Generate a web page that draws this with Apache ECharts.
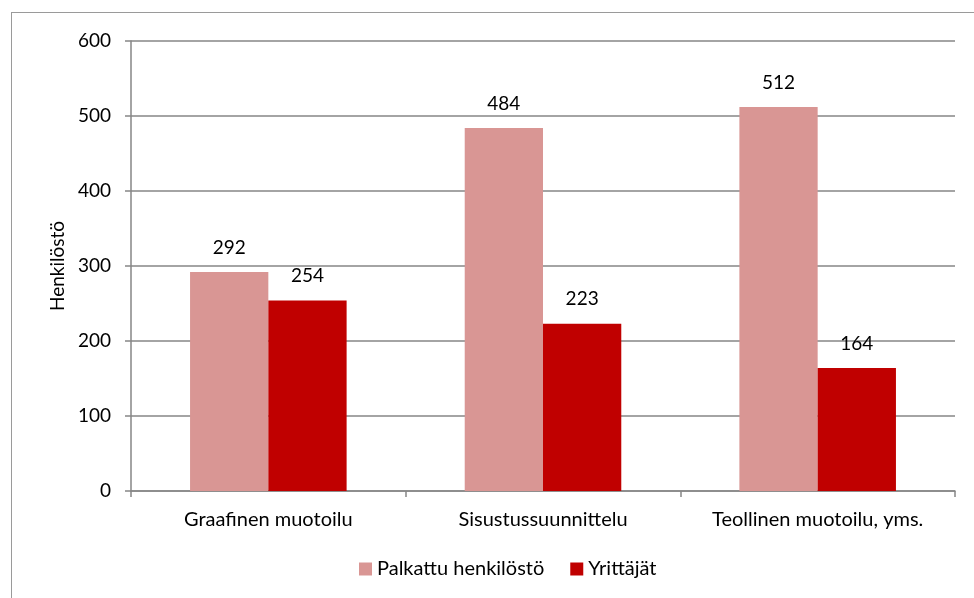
<!DOCTYPE html>
<html>
<head>
<meta charset="utf-8">
<script src="https://cdn.jsdelivr.net/npm/echarts@6/dist/echarts.min.js"></script>
<style>
  html, body { margin: 0; padding: 0; background: #fff; }
  #frame { position: absolute; left: 11px; top: 12px; width: 980px; height: 600px; border: 1px solid #9a9a9a; }
  #chart { position: absolute; left: 0; top: 0; width: 974px; height: 598px; }
</style>
</head>
<body>
<div id="frame"></div>
<div id="chart"></div>
<script>
const categories = ['Graafinen muotoilu', 'Sisustussuunnittelu', 'Teollinen muotoilu, yms.'];
const palkattu = [292, 484, 512];
const yrittajat = [254, 223, 164];
const seriesNames = ['Palkattu henkilöstö', 'Yrittäjät'];
const colors = ['#D99694', '#C00000'];

const FONT = 'Lato';
const FS = 19;

const chart = echarts.init(document.getElementById('chart'));

const labelStyle = {
    show: true,
    position: 'top',
    distance: 15,
    color: '#000',
    fontFamily: FONT,
    fontSize: FS
};

chart.setOption({
    animation: false,
    textStyle: { fontFamily: FONT },
    grid: { left: 131, right: 19, top: 41, bottom: 107, containLabel: false },
    legend: {
        bottom: 14,
        left: 354,
        itemWidth: 13,
        itemHeight: 13,
        itemGap: 26,
        icon: 'rect',
        textStyle: { fontFamily: FONT, fontSize: 20, color: '#000' },
        data: seriesNames
    },
    xAxis: {
        type: 'category',
        data: categories,
        axisLine: { lineStyle: { color: '#868686', width: 1.5 } },
        axisTick: { show: true, length: 6, lineStyle: { color: '#868686', width: 1.5 } },
        axisLabel: { color: '#000', fontFamily: FONT, fontSize: 20, margin: 19 }
    },
    yAxis: {
        type: 'value',
        min: 0,
        max: 600,
        interval: 100,
        name: 'Henkilöstö',
        nameLocation: 'middle',
        nameGap: 61,
        nameRotate: 90,
        nameTextStyle: { color: '#000', fontFamily: FONT, fontSize: FS },
        axisLine: { show: true, lineStyle: { color: '#868686', width: 1.5 } },
        axisTick: { show: true, length: 6, lineStyle: { color: '#868686', width: 1.5 } },
        axisLabel: { color: '#000', fontFamily: FONT, fontSize: FS, margin: 20 },
        splitLine: { lineStyle: { color: '#868686', width: 1.5 } }
    },
    series: [
        {
            name: seriesNames[0],
            type: 'bar',
            data: palkattu,
            itemStyle: { color: colors[0] },
            barGap: '0%',
            barCategoryGap: '43%',
            label: labelStyle
        },
        {
            name: seriesNames[1],
            type: 'bar',
            data: yrittajat,
            itemStyle: { color: colors[1] },
            label: labelStyle
        }
    ]
});
</script>
</body>
</html>
